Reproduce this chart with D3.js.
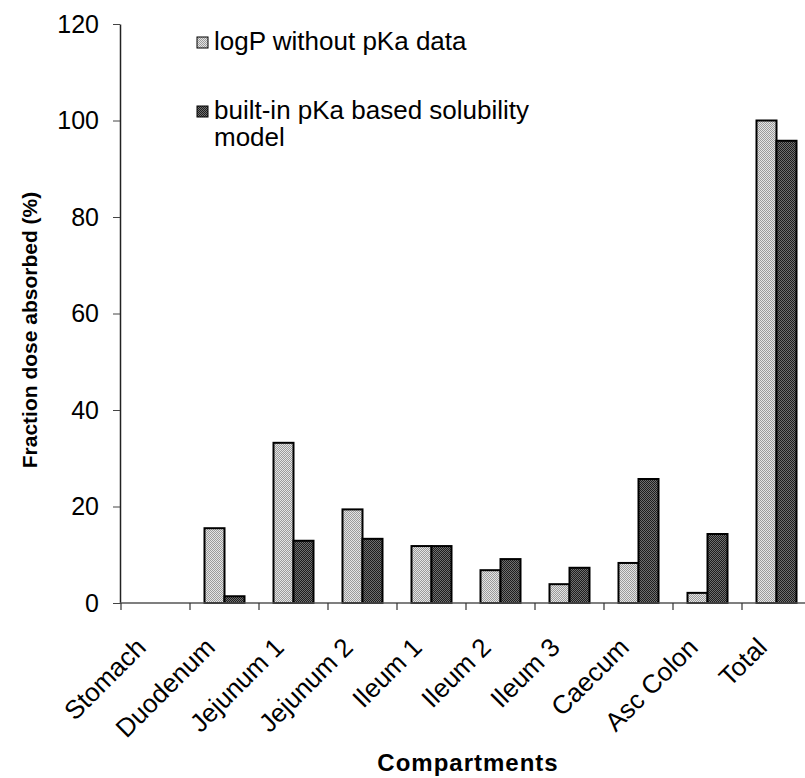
<!DOCTYPE html>
<html>
<head>
<meta charset="utf-8">
<script src="https://cdn.jsdelivr.net/npm/d3@7/dist/d3.min.js"></script>
<style>
  html, body { margin: 0; padding: 0; background: #fff; }
  svg { display: block; font-family: Arial, "Liberation Sans", sans-serif; }
</style>
</head>
<body>
<svg id="chart" width="805" height="778"></svg>
<script>
// Fraction of dose absorbed per GI compartment, two solubility approaches
const categories = ["Stomach", "Duodenum", "Jejunum 1", "Jejunum 2", "Ileum 1",
                    "Ileum 2", "Ileum 3", "Caecum", "Asc Colon", "Total"];
const seriesNames = ["logP without pKa data", "built-in pKa based solubility model"];
const logPValues = [0, 15.5, 33.2, 19.4, 11.8, 6.8, 3.9, 8.3, 2.1, 100];
const pKaValues  = [0, 1.4, 12.9, 13.3, 11.8, 9.1, 7.3, 25.7, 14.3, 95.8];
const yTicks = [0, 20, 40, 60, 80, 100, 120];

const svg = d3.select("#chart");

const x = d3.scaleBand().domain(categories).range([121, 811]).padding(0);
const xs = d3.scaleBand().domain(seriesNames).range([0, x.bandwidth()])
  .paddingInner(0).paddingOuter(0.725);
const y = d3.scaleLinear().domain([0, 120]).range([603, 24]);

// stippled fills
const defs = svg.append("defs");
function stipple(id, a, b) {
  const p = defs.append("pattern").attr("id", id)
    .attr("width", 2).attr("height", 2).attr("patternUnits", "userSpaceOnUse");
  p.append("rect").attr("width", 2).attr("height", 2).attr("fill", a);
  p.append("rect").attr("width", 1).attr("height", 1).attr("fill", b);
  p.append("rect").attr("x", 1).attr("y", 1).attr("width", 1).attr("height", 1).attr("fill", b);
}
stipple("fillLight", "#e4e4e4", "#9a9a9a");
stipple("fillDark", "#707070", "#1e1e1e");
const fills = ["url(#fillLight)", "url(#fillDark)"];

const rows = categories.map((c, i) => ({ c, vals: [logPValues[i], pKaValues[i]] }));

// bars
const groups = svg.append("g").selectAll("g").data(rows).join("g")
  .attr("transform", d => `translate(${x(d.c)},0)`);
groups.selectAll("rect")
  .data(d => d.vals.map((v, k) => ({ v, k })).filter(e => e.v > 0))
  .join("rect")
  .attr("x", e => xs(seriesNames[e.k]))
  .attr("width", xs.bandwidth())
  .attr("y", e => y(e.v))
  .attr("height", e => y(0) - y(e.v))
  .attr("fill", e => fills[e.k])
  .attr("stroke", "#000")
  .attr("stroke-width", 2);

// y axis
const yAxis = svg.append("g").attr("transform", "translate(120,0)")
  .call(d3.axisLeft(y).tickValues(yTicks).tickSize(7).tickSizeOuter(0).tickPadding(14));
yAxis.select(".domain").attr("stroke", "#222").attr("stroke-width", 1.5);
yAxis.selectAll(".tick line").attr("stroke", "#444");
yAxis.selectAll(".tick text").attr("font-size", 25).attr("font-family", "Arial, 'Liberation Sans', sans-serif")
  .attr("fill", "#000");

// x axis: baseline with ticks at category boundaries
const xAxis = svg.append("g").attr("transform", `translate(0,${y(0)})`);
xAxis.append("line").attr("x1", 120).attr("x2", 811).attr("stroke", "#555").attr("stroke-width", 1.5);
const bounds = categories.map(c => x(c));
xAxis.selectAll("line.tk").data(bounds).join("line").attr("class", "tk")
  .attr("x1", d => d).attr("x2", d => d).attr("y1", 0).attr("y2", 7)
  .attr("stroke", "#333").attr("stroke-width", 1.2);
svg.append("g").selectAll("text").data(categories).join("text")
  .attr("transform", c => `translate(${x(c) + x.bandwidth() / 2 - 8},649) rotate(-45)`)
  .attr("text-anchor", "end")
  .attr("font-size", 26)
  .text(c => c);

// axis titles
svg.append("text")
  .attr("transform", "translate(37,330) rotate(-90)")
  .attr("text-anchor", "middle")
  .attr("font-size", 21).attr("font-weight", "bold")
  .text("Fraction dose absorbed (%)");
svg.append("text")
  .attr("x", 468).attr("y", 771)
  .attr("text-anchor", "middle")
  .attr("font-size", 24).attr("font-weight", "bold")
  .attr("letter-spacing", 1)
  .text("Compartments");

// legend
const legendLines = [
  { k: 0, lines: ["logP without pKa data"], y: 50 },
  { k: 1, lines: ["built-in pKa based solubility", "model"], y: 119 }
];
const lg = svg.append("g");
legendLines.forEach(item => {
  lg.append("rect").attr("x", 197).attr("y", item.y - 13).attr("width", 11).attr("height", 11)
    .attr("fill", fills[item.k]).attr("stroke", "#000").attr("stroke-width", 1);
  item.lines.forEach((t, j) => {
    lg.append("text").attr("x", 214).attr("y", item.y + j * 27)
      .attr("font-size", 26).text(t);
  });
});
</script>
</body>
</html>
